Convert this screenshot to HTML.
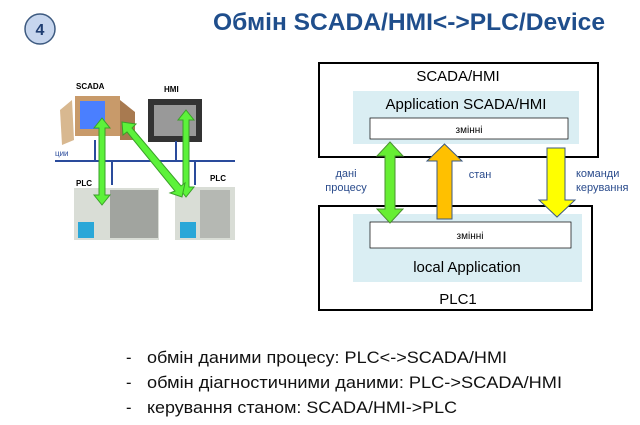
<!DOCTYPE html>
<html><head><meta charset="utf-8"><style>
body{margin:0;background:#fff;width:640px;height:425px;overflow:hidden}
svg{display:block}
</style></head><body>
<svg width="640" height="425" viewBox="0 0 640 425" font-family="Liberation Sans, sans-serif">
<circle cx="40" cy="29" r="15" fill="#c7d6ee" stroke="#3d5a80" stroke-width="1.5"/>
<text x="40" y="35" font-size="16" font-weight="bold" fill="#1f3e72" text-anchor="middle">4</text>
<text x="409" y="30" font-size="24" font-weight="bold" fill="#1f4e8c" text-anchor="middle" textLength="392" lengthAdjust="spacingAndGlyphs">Обмін SCADA/HMI&lt;-&gt;PLC/Device</text>

<text x="76" y="89" font-size="8" font-weight="bold">SCADA</text>
<text x="164" y="92" font-size="8" font-weight="bold">HMI</text>
<path d="M60 110 L72 100 L74 140 L62 145 Z" fill="#d8b890"/>
<rect x="75" y="96" width="45" height="40" fill="#c89a6a"/>
<rect x="80" y="101" width="25" height="28" fill="#4a7fff"/>
<path d="M120 100 L135 112 L135 140 L120 140 Z" fill="#a87a50"/>
<rect x="148" y="99" width="54" height="43" fill="#333"/>
<rect x="154" y="105" width="42" height="31" fill="#999"/>
<line x1="55" y1="161" x2="235" y2="161" stroke="#2a4b9c" stroke-width="2"/>
<line x1="95" y1="140" x2="95" y2="161" stroke="#2a4b9c" stroke-width="2"/>
<line x1="176" y1="141" x2="176" y2="161" stroke="#2a4b9c" stroke-width="2"/>
<line x1="112" y1="161" x2="112" y2="185" stroke="#2a4b9c" stroke-width="2"/>
<line x1="195" y1="161" x2="195" y2="185" stroke="#2a4b9c" stroke-width="2"/>
<text x="55" y="156" font-size="8" fill="#2a4b9c">ции</text>
<text x="76" y="186" font-size="8" font-weight="bold">PLC</text>
<text x="210" y="181" font-size="8" font-weight="bold">PLC</text>
<rect x="74" y="188" width="85" height="52" fill="#d9ddd6"/>
<rect x="110" y="190" width="48" height="48" fill="#3a3a3a" opacity=".35"/>
<rect x="175" y="187" width="60" height="53" fill="#d9ddd6"/>
<rect x="200" y="190" width="30" height="48" fill="#4a4a4a" opacity=".25"/>
<rect x="78" y="222" width="16" height="16" fill="#2aa7d8"/>
<rect x="180" y="222" width="16" height="16" fill="#2aa7d8"/>
<g fill="#5cf23a" stroke="#3aa028" stroke-width="1">
<path d="M102 118 L110 128 L105 128 L105 195 L110 195 L102 205 L94 195 L99 195 L99 128 L94 128 Z"/>
<path d="M186 110 L194 120 L189 120 L189 187 L194 187 L186 197 L178 187 L183 187 L183 120 L178 120 Z"/>
<path d="M122 122 L136 124 L132 128 L181 186 L185 183 L182 197 L170 193 L175 191 L127 132 L123 135 Z"/>
</g>

<rect x="319" y="63" width="279" height="94" fill="#fff" stroke="#000" stroke-width="2"/>
<text x="458" y="81" font-size="15" text-anchor="middle">SCADA/HMI</text>
<rect x="353" y="91" width="226" height="53" fill="#daeef3"/>
<text x="466" y="109" font-size="15" text-anchor="middle">Application  SCADA/HMI</text>
<rect x="370" y="118" width="198" height="21" fill="#fff" stroke="#000" stroke-width="0.7"/>
<text x="469" y="133" font-size="10" text-anchor="middle">змінні</text>

<rect x="319" y="206" width="273" height="104" fill="#fff" stroke="#000" stroke-width="2"/>
<rect x="353" y="214" width="229" height="68" fill="#daeef3"/>
<rect x="370" y="222" width="201" height="26" fill="#fff" stroke="#000" stroke-width="0.7"/>
<text x="470" y="239" font-size="10" text-anchor="middle">змінні</text>
<text x="467" y="272" font-size="15" text-anchor="middle">local Application</text>
<text x="458" y="304" font-size="15" text-anchor="middle">PLC1</text>

<path d="M390 142 L403 156 L395 156 L395 209 L403 209 L390 223 L377 209 L385 209 L385 156 L377 156 Z" fill="#66ee33" stroke="#4a9030" stroke-width="1"/>
<path d="M444.5 144 L462 161 L452 161 L452 219 L437 219 L437 161 L427 161 Z" fill="#ffc000" stroke="#3d5a80" stroke-width="1"/>
<path d="M547 148 L565 148 L565 200 L575 200 L557 217 L539 200 L547 200 Z" fill="#ffff00" stroke="#3d5a80" stroke-width="1"/>
<g font-size="11" fill="#2a4b8c">
<text x="346" y="177" text-anchor="middle">дані</text>
<text x="346" y="191" text-anchor="middle">процесу</text>
<text x="480" y="178" text-anchor="middle">стан</text>
<text x="576" y="177">команди</text>
<text x="576" y="191">керування</text>
</g>

<g font-size="16.5" fill="#111">
<text x="126" y="363">-</text><text x="147" y="363" textLength="360" lengthAdjust="spacingAndGlyphs">обмін даними процесу: PLC&lt;-&gt;SCADA/HMI</text>
<text x="126" y="388">-</text><text x="147" y="388" textLength="415" lengthAdjust="spacingAndGlyphs">обмін діагностичними даними: PLC-&gt;SCADA/HMI</text>
<text x="126" y="413">-</text><text x="147" y="413" textLength="310" lengthAdjust="spacingAndGlyphs">керування станом: SCADA/HMI-&gt;PLC</text>
</g>
</svg>
</body></html>
